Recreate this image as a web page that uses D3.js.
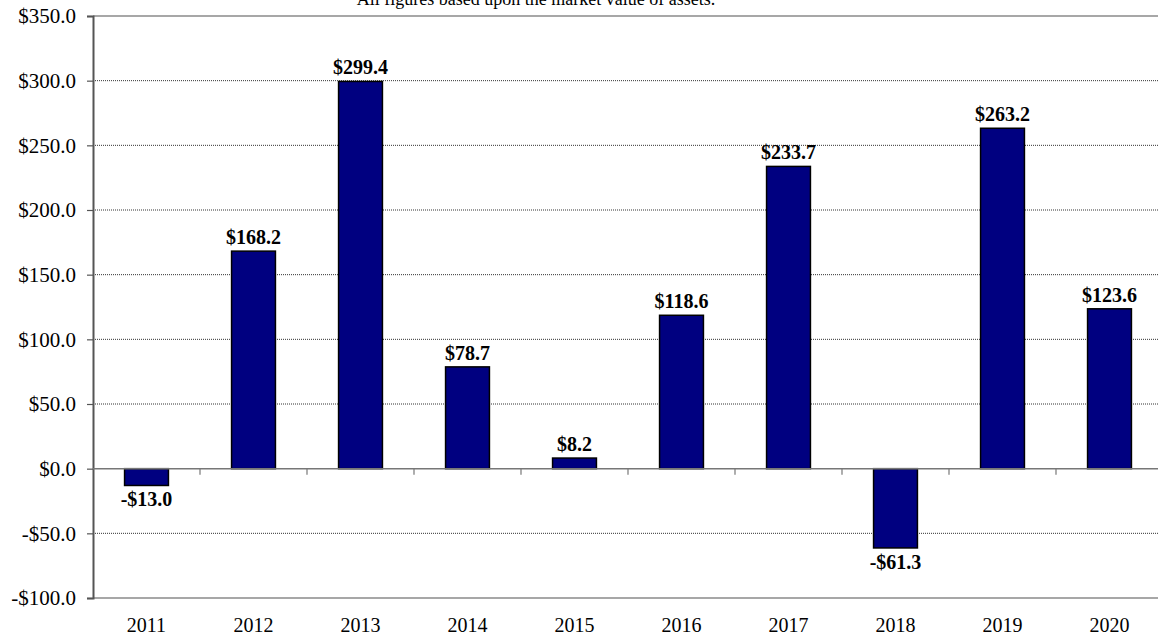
<!DOCTYPE html>
<html>
<head>
<meta charset="utf-8">
<script src="https://cdn.jsdelivr.net/npm/d3@7"></script>
<style>
  html, body { margin: 0; padding: 0; background: #fff; }
  svg { display: block; }
</style>
</head>
<body>
<div id="chart"></div>
<script>
const years = ["2011", "2012", "2013", "2014", "2015", "2016", "2017", "2018", "2019", "2020"]
const values = [-13.0, 168.2, 299.4, 78.7, 8.2, 118.6, 233.7, -61.3, 263.2, 123.6]
const yTicks = [-100, -50, 0, 50, 100, 150, 200, 250, 300, 350]
const subtitle = "All figures based upon the market value of assets."

const width = 1158
const height = 640

const svg = d3.select("#chart")
  .append("svg")
  .attr("width", width)
  .attr("height", height)

const x = d3.scaleBand()
  .domain(years)
  .range([93, 1163])
  .paddingInner(0.59)
  .paddingOuter(0.295)

const y = d3.scaleLinear()
  .domain([-100, 350])
  .range([598, 16])

const money = v => (v < 0 ? "-$" : "$") + Math.abs(v).toFixed(1)

// subtitle, cut off at the top like the original
svg.append("text")
  .attr("x", 536)
  .attr("y", 5)
  .attr("text-anchor", "middle")
  .style("font-family", "'Liberation Serif', 'Times New Roman', serif")
  .style("font-size", "18px")
  .text(subtitle)

// gridlines
svg.append("g")
  .selectAll("line")
  .data(yTicks.filter(d => d !== 0 && d !== -100 && d !== 350))
  .enter()
  .append("line")
  .attr("x1", 93)
  .attr("x2", width)
  .attr("y1", d => y(d))
  .attr("y2", d => y(d))
  .style("stroke", "#333")
  .style("stroke-width", 1)
  .style("stroke-dasharray", "1,1")

// solid frame lines at top and bottom
svg.append("g")
  .selectAll("line")
  .data([350, -100])
  .enter()
  .append("line")
  .attr("x1", 93)
  .attr("x2", width)
  .attr("y1", d => y(d))
  .attr("y2", d => y(d))
  .style("stroke", "#8a8a8a")
  .style("stroke-width", 1.5)

// y axis
const yAxis = svg.append("g")
  .attr("transform", "translate(93,0)")
  .call(d3.axisLeft(y).tickValues(yTicks).tickSize(6).tickPadding(11).tickFormat(d => money(d)))

yAxis.select(".domain").style("stroke", "#555").style("stroke-width", 2)
yAxis.selectAll(".tick line").style("stroke", "#555").style("stroke-width", 1.2)
yAxis.selectAll(".tick text")
  .style("font-family", "'Liberation Serif', 'Times New Roman', serif")
  .style("font-size", "21px")
  .style("fill", "#000")

// bars
svg.append("g")
  .selectAll("rect")
  .data(values)
  .enter()
  .append("rect")
  .attr("x", (d, i) => x(years[i]))
  .attr("width", x.bandwidth())
  .attr("y", d => y(Math.max(0, d)))
  .attr("height", d => Math.abs(y(d) - y(0)))
  .attr("fill", "#000080")
  .attr("stroke", "#000")
  .attr("stroke-width", 1.5)

// zero line with category ticks
svg.append("line")
  .attr("x1", 93)
  .attr("x2", width)
  .attr("y1", y(0))
  .attr("y2", y(0))
  .style("stroke", "#777")
  .style("stroke-width", 1.5)

svg.append("g")
  .selectAll("line")
  .data(years.slice(1))
  .enter()
  .append("line")
  .attr("x1", d => x(d) - x.step() * x.paddingInner() / 2)
  .attr("x2", d => x(d) - x.step() * x.paddingInner() / 2)
  .attr("y1", y(0))
  .attr("y2", y(0) + 6)
  .style("stroke", "#777")
  .style("stroke-width", 1.2)

// year labels along the bottom
svg.append("g")
  .selectAll("text")
  .data(years)
  .enter()
  .append("text")
  .attr("x", d => x(d) + x.bandwidth() / 2)
  .attr("y", 632)
  .attr("text-anchor", "middle")
  .style("font-family", "'Liberation Serif', 'Times New Roman', serif")
  .style("font-size", "20px")
  .text(d => d)

// value labels
svg.append("g")
  .selectAll("text")
  .data(values)
  .enter()
  .append("text")
  .attr("x", (d, i) => x(years[i]) + x.bandwidth() / 2)
  .attr("y", d => d >= 0 ? y(d) - 7 : y(d) + 21)
  .attr("text-anchor", "middle")
  .style("font-family", "'Liberation Serif', 'Times New Roman', serif")
  .style("font-size", "20px")
  .style("font-weight", "bold")
  .text(d => money(d))
</script>
</body>
</html>
